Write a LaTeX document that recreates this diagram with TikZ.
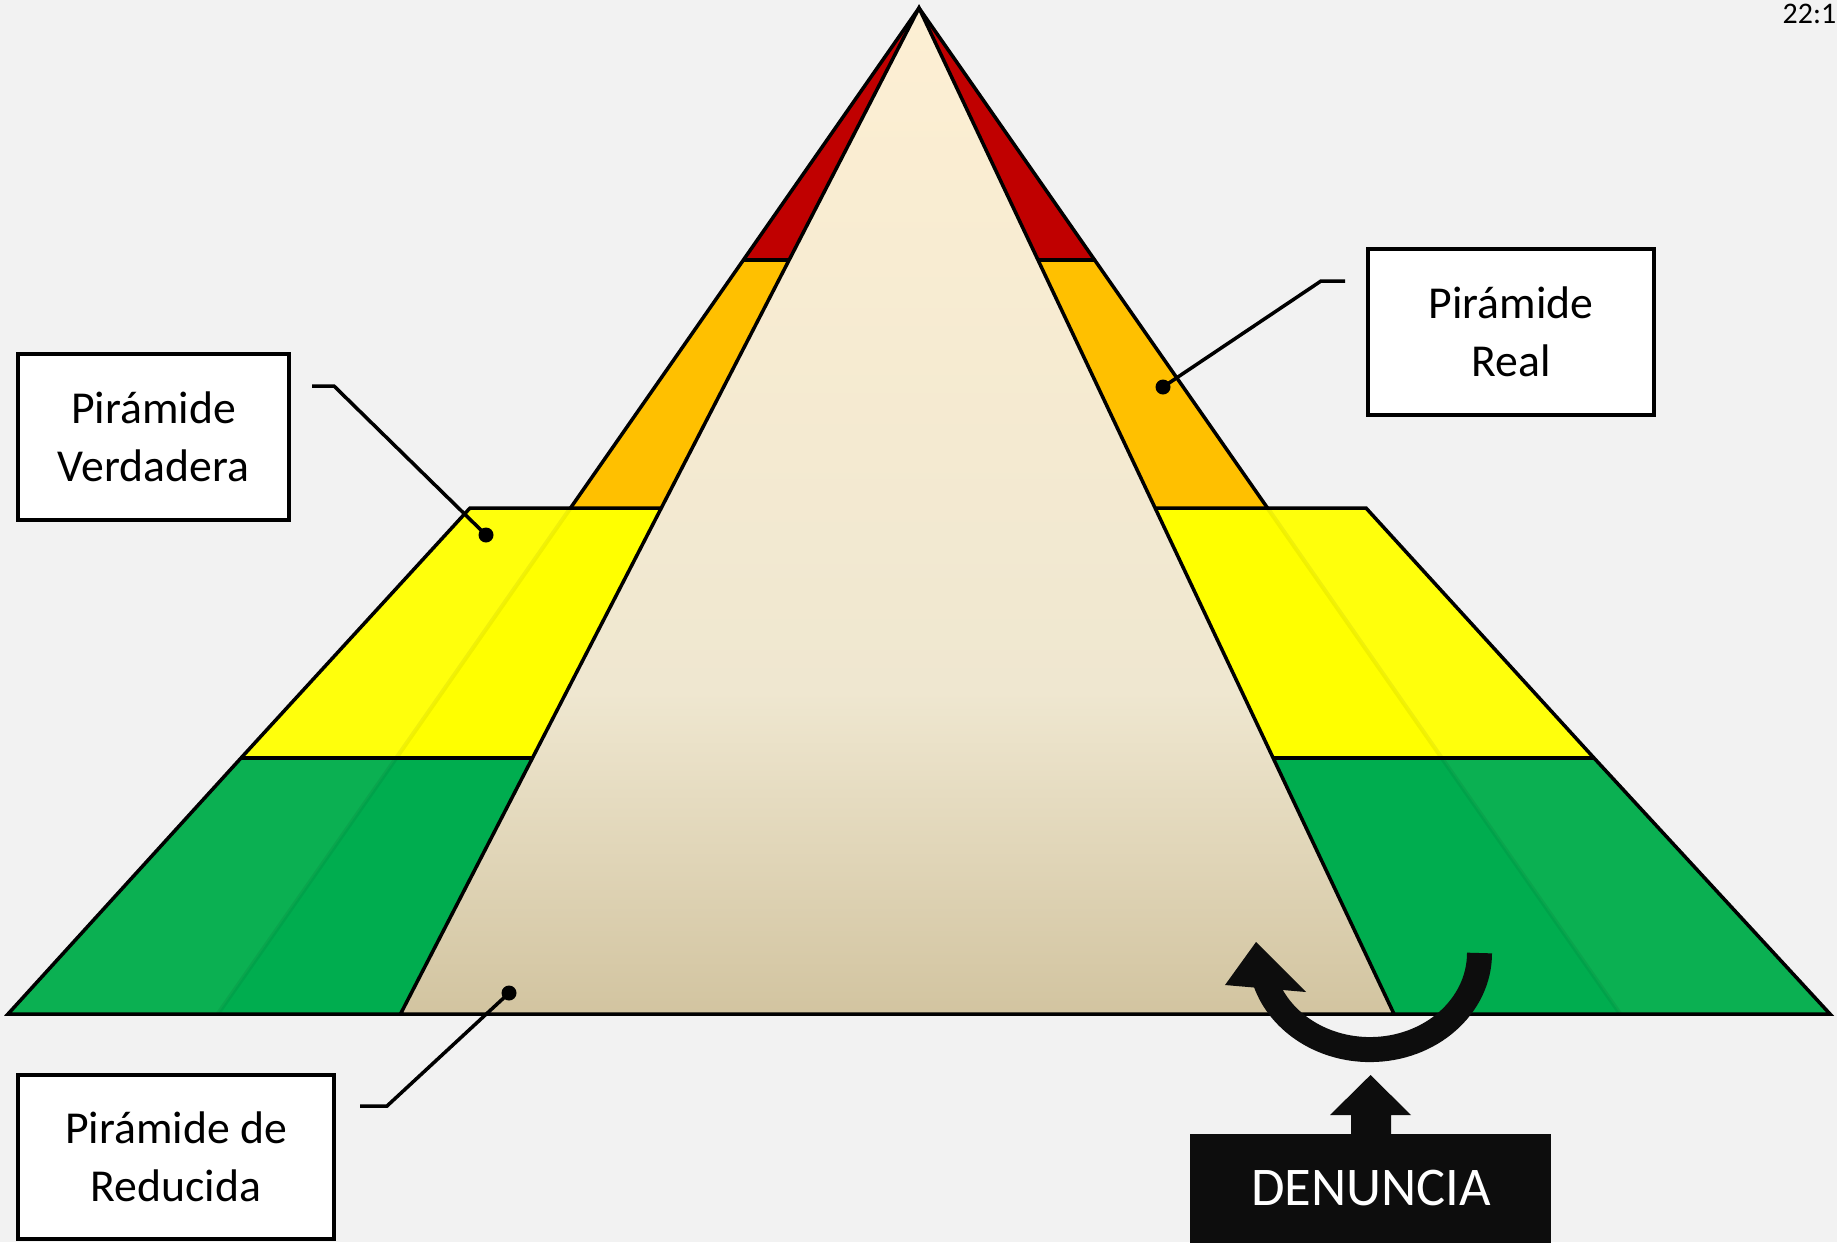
\documentclass[tikz,border=0pt]{standalone}
\usepackage{fontspec}
\setmainfont{Carlito}
\definecolor{bg}{HTML}{F2F2F2}
\definecolor{pred}{HTML}{C00000}
\definecolor{porange}{HTML}{FFC000}
\definecolor{pyellow}{HTML}{FFFF00}
\definecolor{pyellowout}{HTML}{FFFF0C}
\definecolor{pgreen}{HTML}{00AD4F}
\definecolor{pgreenout}{HTML}{0BB052}
\definecolor{beigetop}{HTML}{FDEFD3}
\definecolor{beigemid}{HTML}{EFE7D0}
\definecolor{beigebot}{HTML}{D2C4A0}
\definecolor{boxblack}{HTML}{0D0D0D}
\pgfdeclareverticalshading{beigeshade}{100bp}{color(0bp)=(beigebot); color(25bp)=(beigebot); color(41bp)=(beigemid); color(75bp)=(beigetop); color(100bp)=(beigetop)}
\begin{document}
\begin{tikzpicture}[x=0.01cm,y=0.01cm,
  outline/.style={draw=black,line width=1pt,line join=miter},
  lbox/.style={draw=black,line width=1pt,fill=white,inner sep=0pt,align=center,font=\fontsize{13}{16.5}\selectfont},
  leader/.style={draw=black,line width=1pt},
  dot/.style={circle,fill=black,inner sep=0pt,minimum size=0.15cm},
  faint/.style={draw=black,draw opacity=0.06,line width=1.2pt}]
% background / bounding box
\fill[bg] (0,0) rectangle (1837,-1242);
\useasboundingbox (0,0) rectangle (1837,-1242);

% key points
\coordinate (apex) at (919,-8);
\coordinate (oL260) at (743.4,-260);  \coordinate (oR260) at (1094.6,-260);
\coordinate (oL508) at (570.5,-508);  \coordinate (oR508) at (1267.5,-508);
\coordinate (oL758) at (396.2,-758);  \coordinate (oR758) at (1441.8,-758);
\coordinate (oL1014) at (217.8,-1014); \coordinate (oR1014) at (1620.2,-1014);
\coordinate (tL508) at (470,-508);   \coordinate (tR508) at (1366,-508);
\coordinate (tL758) at (241,-758);   \coordinate (tR758) at (1594,-758);
\coordinate (tL1014) at (8,-1014);   \coordinate (tR1014) at (1830,-1014);
\coordinate (iL) at (400.5,-1014);   \coordinate (iR) at (1394,-1014);

% wide trapezoid bands (outer, lighter)
\fill[pyellowout] (tL508) -- (tR508) -- (tR758) -- (tL758) -- cycle;
\fill[pgreenout] (tL758) -- (tR758) -- (tR1014) -- (tL1014) -- cycle;

% tall pyramid bands
\fill[pred] (apex) -- (oR260) -- (oL260) -- cycle;
\fill[porange] (oL260) -- (oR260) -- (oR508) -- (oL508) -- cycle;
\fill[pyellow] (oL508) -- (oR508) -- (oR758) -- (oL758) -- cycle;
\fill[pgreen] (oL758) -- (oR758) -- (oR1014) -- (oL1014) -- cycle;

% faint continuation lines
\draw[faint] (oL508) -- (oL1014);
\draw[faint] (oR508) -- (oR1014);

% black outlines
\draw[outline] (oL508) -- (apex) -- (oR508);
\draw[outline] (oL260) -- (oR260);
\draw[outline] (tL758) -- (tR758);
\draw[outline] (tL508) -- (tR508) -- (tR758) -- (tR1014) -- (tL1014) -- (tL758) -- cycle;

% inner (beige) pyramid
\shade[shading=beigeshade] (apex) -- (iR) -- (iL) -- cycle;
\draw[outline] (apex) -- (iR) -- (iL) -- cycle;

% label boxes
\node[lbox,minimum width=2.71cm,minimum height=1.66cm] (verd) at (153.5,-437) {Pirámide\\Verdadera};
\node[lbox,minimum width=2.86cm,minimum height=1.66cm] (real) at (1511,-332) {Pirámide\\Real};
\node[lbox,minimum width=3.16cm,minimum height=1.64cm] (redu) at (176,-1157) {Pirámide de\\Reducida};

% leaders
\node[dot] (dV) at (486,-535) {};
\node[dot] (dR) at (1163,-387) {};
\node[dot] (dD) at (509,-993) {};
\coordinate (sV1) at (312,-386); \coordinate (sV2) at (334,-386);
\coordinate (sR1) at (1345,-281); \coordinate (sR2) at (1321,-281);
\coordinate (sD1) at (360,-1106); \coordinate (sD2) at (387,-1106);
\draw[leader] (sV1) -- (sV2) -- (dV.center);
\draw[leader] (sR1) -- (sR2) -- (dR.center);
\draw[leader] (sD1) -- (sD2) -- (dD.center);

% curved arrow
\coordinate (arcS) at (1479.5,-953);
\draw[boxblack,line width=0.25cm] (arcS) arc[start angle=0,end angle=-165,x radius=1.095cm,y radius=0.965cm] coordinate (arcE);
\fill[boxblack] (1256,-942) -- (1306,-992) -- (1225,-985) -- cycle;

% DENUNCIA box and arrow
\node[fill=boxblack,minimum width=3.61cm,minimum height=1.25cm,inner sep=0pt,anchor=north] (denbox) at (1370.5,-1133) {};
\node[text=white,inner sep=0pt,font=\fontsize{15.5}{18}\selectfont] (den) at (1371,-1188) {DENUNCIA};
\fill[boxblack] (1351,-1134) -- (1351,-1115) -- (1330,-1115) -- (1370.5,-1075) -- (1411,-1115) -- (1391,-1115) -- (1391,-1134) -- cycle;

% page number
\node[anchor=base west,inner sep=0pt,font=\fontsize{8.5}{9}\selectfont] (pg) at (1782,-23) {22:1};
\end{tikzpicture}
\end{document}
